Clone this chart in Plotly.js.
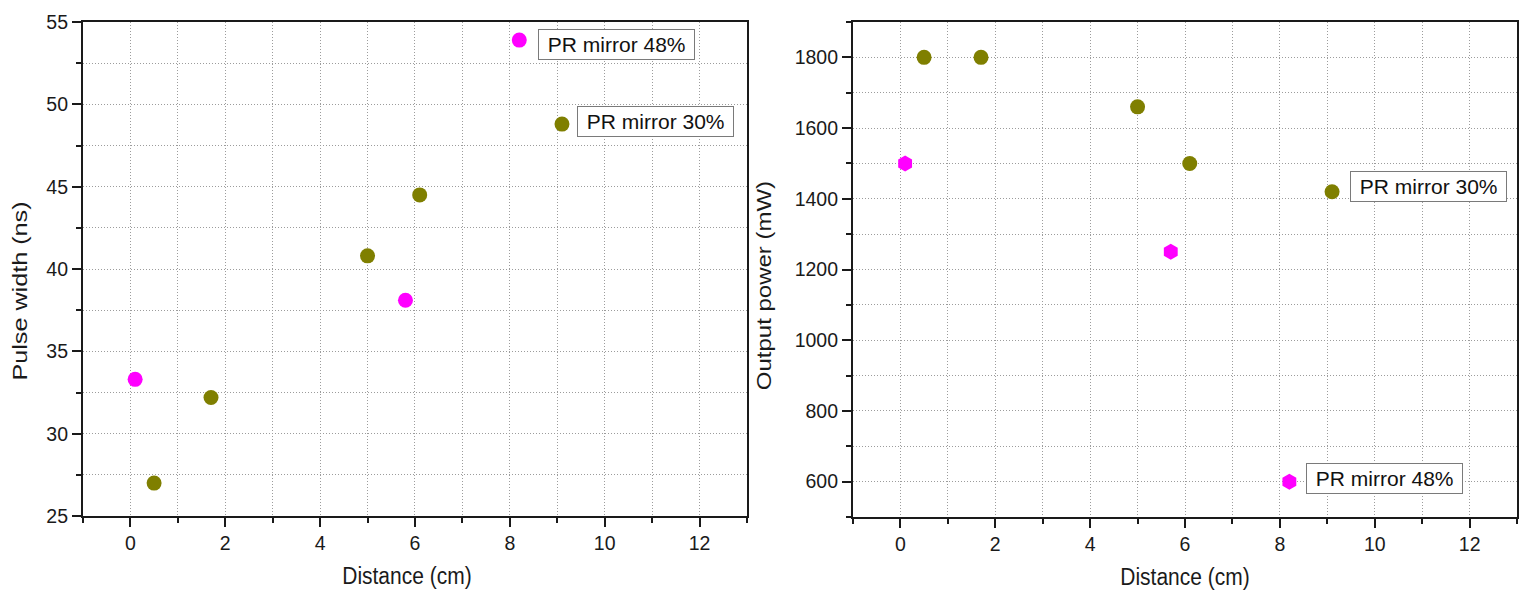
<!DOCTYPE html>
<html>
<head>
<meta charset="utf-8">
<script src="https://cdn.plot.ly/plotly-3.0.1.min.js"></script>
<style>html,body{margin:0;padding:0;background:#fff;}#chart{width:1525px;height:590px;}</style>
</head>
<body>
<div id="chart"></div>
<script>
// Left panel: pulse width
const pw30_x = [0.5, 1.7, 5.0, 6.1, 9.1];
const pw30_y = [27.0, 32.2, 40.8, 44.5, 48.8];
const pw48_x = [0.1, 5.8, 8.2];
const pw48_y = [33.3, 38.1, 53.9];
// Right panel: output power
const op30_x = [0.5, 1.7, 5.0, 6.1, 9.1];
const op30_y = [1800, 1800, 1660, 1500, 1420];
const op48_x = [0.1, 5.7, 8.2];
const op48_y = [1500, 1250, 600];

const label30 = "PR mirror 30%";
const label48 = "PR mirror 48%";

const OLIVE = "#7f7f00", MAG = "#ff00ff";
const FONT = "Arial, 'Liberation Sans', sans-serif";
const INK = '#1a1a1a';

const traces = [
  {x: pw30_x, y: pw30_y, xaxis: 'x', yaxis: 'y', mode: 'markers', name: label30,
   marker: {color: OLIVE, size: 15, symbol: 'circle'}},
  {x: pw48_x, y: pw48_y, xaxis: 'x', yaxis: 'y', mode: 'markers', name: label48,
   marker: {color: MAG, size: 15, symbol: 'circle'}},
  {x: op30_x, y: op30_y, xaxis: 'x2', yaxis: 'y2', mode: 'markers', name: label30,
   marker: {color: OLIVE, size: 15, symbol: 'circle'}},
  {x: op48_x, y: op48_y, xaxis: 'x2', yaxis: 'y2', mode: 'markers', name: label48,
   marker: {color: MAG, size: 16, symbol: 'hexagon'}}
];

const GRID = {showgrid: true, gridcolor: '#9c9c9c', griddash: '1px,2px', gridwidth: 1};

function axisBase(extra, minorDtick, minorTick0) {
  return Object.assign({
    showline: true, linecolor: INK, linewidth: 2, mirror: true,
    ticks: 'outside', ticklen: 9, tickwidth: 2, tickcolor: INK,
    zeroline: false,
    tickfont: {family: FONT, size: 19.5, color: INK},
    minor: Object.assign({dtick: minorDtick, tick0: minorTick0, ticks: 'outside', ticklen: 5,
      tickwidth: 2, tickcolor: INK}, GRID)
  }, GRID, extra);
}

const TF = {family: FONT, size: 21, color: INK};

const layout = {
  width: 1525, height: 590,
  margin: {l: 0, r: 0, t: 0, b: 0},
  paper_bgcolor: '#fff', plot_bgcolor: '#fff',
  showlegend: false,
  font: {family: FONT},
  xaxis: axisBase({domain: [0.0544, 0.4898], range: [-1, 13], dtick: 2, tick0: 0, anchor: 'y',
    title: {text: 'Distance (cm)', font: TF, standoff: 15}}, 1, 0),
  yaxis: axisBase({domain: [0.1254, 0.9627], range: [25, 55], dtick: 5, tick0: 25, anchor: 'x',
    title: {text: 'Pulse width (ns)', font: TF, standoff: 13}}, 2.5, 25),
  xaxis2: axisBase({domain: [0.5593, 0.9948], range: [-1, 13], dtick: 2, tick0: 0, anchor: 'y2',
    title: {text: 'Distance (cm)', font: TF, standoff: 15}}, 1, 0),
  yaxis2: axisBase({domain: [0.1237, 0.9627], range: [500, 1900], dtick: 200, tick0: 600, anchor: 'x2',
    title: {text: 'Output power (mW)', font: {family: FONT, size: 20, color: INK}, standoff: 18}}, 100, 500),
  annotations: [
    {xref: 'x', yref: 'y', x: pw48_x[2], y: pw48_y[2], text: ' ' + label48 + ' ', showarrow: false,
     xanchor: 'left', yanchor: 'middle', xshift: 19, yshift: -4},
    {xref: 'x', yref: 'y', x: pw30_x[4], y: pw30_y[4], text: ' ' + label30 + ' ', showarrow: false,
     xanchor: 'left', yanchor: 'middle', xshift: 15, yshift: 3},
    {xref: 'x2', yref: 'y2', x: op30_x[4], y: op30_y[4], text: ' ' + label30 + ' ', showarrow: false,
     xanchor: 'left', yanchor: 'middle', xshift: 18, yshift: 5},
    {xref: 'x2', yref: 'y2', x: op48_x[2], y: op48_y[2], text: ' ' + label48 + ' ', showarrow: false,
     xanchor: 'left', yanchor: 'middle', xshift: 17, yshift: 3}
  ].map(a => Object.assign(a, {
    font: {family: FONT, size: 21, color: '#111'},
    bgcolor: '#fff', bordercolor: '#7a7a7a', borderwidth: 1, borderpad: 3
  }))
};

// Axis titles in the reference are vertically stretched and the y titles sit a bit low.
const titleAdjust = [
  {sel: 'text.xtitle', dx: -8, dy: 0, s: 1.12},
  {sel: 'text.x2title', dx: 0, dy: 0, s: 1.12},
  {sel: 'text.ytitle', dx: 0, dy: 22, s: 1.2},
  {sel: 'text.y2title', dx: 0, dy: 16, s: 1.2}
];

Plotly.newPlot('chart', traces, layout, {displayModeBar: false, staticPlot: true}).then(gd => {
  const svgRect = gd.querySelector('svg.main-svg').getBoundingClientRect();
  titleAdjust.forEach(t => {
    const el = gd.querySelector(t.sel);
    if (!el) return;
    const r = el.getBoundingClientRect();
    const cx = r.left + r.width / 2 - svgRect.left, cy = r.top + r.height / 2 - svgRect.top;
    const prev = el.getAttribute('transform') || '';
    el.setAttribute('transform',
      `translate(${t.dx},${t.dy}) translate(${cx},${cy}) scale(1,${t.s}) translate(${-cx},${-cy}) ` + prev);
  });
});
</script>
</body>
</html>
